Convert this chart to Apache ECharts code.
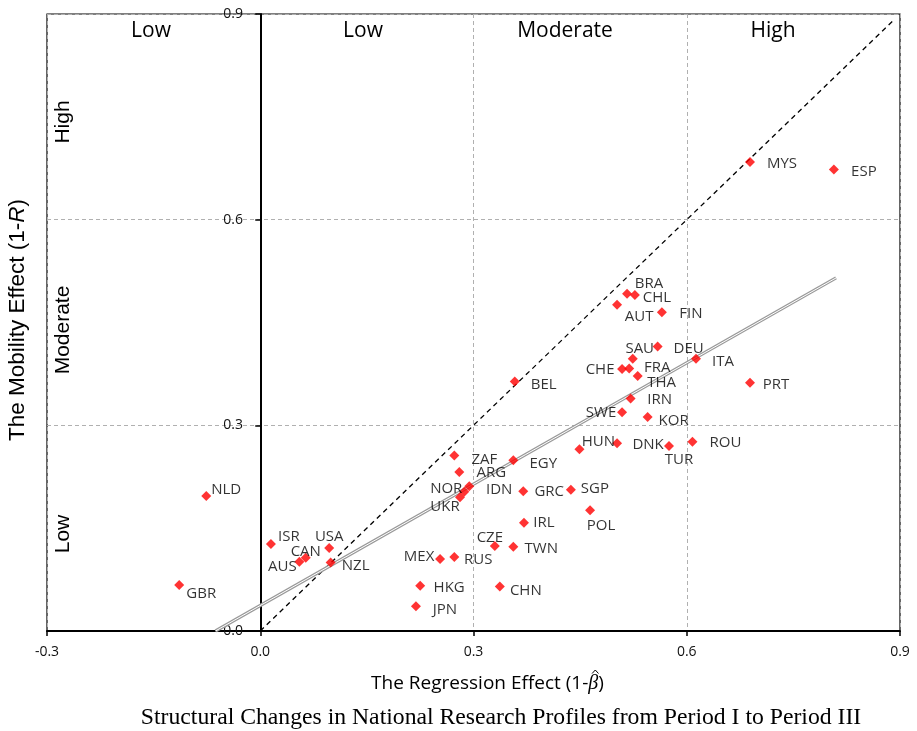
<!DOCTYPE html>
<html><head><meta charset="utf-8">
<script src="https://cdn.jsdelivr.net/npm/echarts@6/dist/echarts.min.js"></script>
<style>html,body{margin:0;padding:0;background:#fff}#c{width:917px;height:731px}</style>
</head><body><div id="c"></div>
<script>
// ---- data ----
const countries = ['MYS','ESP','BRA','CHL','AUT','FIN','DEU','SAU','ITA','CHE','FRA','THA','BEL','PRT','IRN','SWE','KOR','HUN','DNK','TUR','ROU','EGY','ZAF','ARG','IDN','NOR','UKR','GRC','SGP','POL','IRL','CZE','TWN','MEX','RUS','HKG','CHN','JPN','NLD','GBR','ISR','USA','CAN','AUS','NZL'];
const regressionEffect = [0.689,0.807,0.516,0.527,0.502,0.565,0.559,0.524,0.613,0.509,0.519,0.531,0.358,0.689,0.521,0.509,0.545,0.449,0.502,0.575,0.608,0.356,0.273,0.280,0.294,0.287,0.281,0.370,0.437,0.464,0.371,0.330,0.356,0.253,0.273,0.225,0.337,0.219,-0.076,-0.114,0.015,0.097,0.064,0.055,0.099];
const mobilityEffect = [0.684,0.673,0.492,0.490,0.476,0.465,0.415,0.397,0.397,0.382,0.383,0.372,0.364,0.362,0.339,0.319,0.312,0.265,0.274,0.270,0.276,0.249,0.256,0.232,0.211,0.203,0.195,0.204,0.206,0.176,0.158,0.124,0.123,0.105,0.108,0.066,0.065,0.036,0.197,0.067,0.127,0.121,0.107,0.101,0.100];
const regLineX = [-0.063, 0.810];
const regLineY = [0.0, 0.515];
const diagX = [0, 0.89];
const diagY = [0, 0.89];
const xTicks = [-0.3, 0.0, 0.3, 0.6, 0.9];
const yTicks = [0.0, 0.3, 0.6, 0.9];
const topLevels = ['Low','Low','Moderate','High'];
const sideLevels = ['High','Moderate','Low'];
const xTitleMain = 'The Regression Effect (1-';
const xTitleSym = '\u03B2';
const yTitleMain = 'The Mobility Effect (1-';
const yTitleSym = 'R';
const caption = 'Structural Changes in National Research Profiles from Period I to Period III';

// ---- label placement (style) ----
const labelOffset = {
  MYS:[32,2], ESP:[30,2], BRA:[22,-10], CHL:[22,3], AUT:[22,12], FIN:[29,2], DEU:[31,2],
  SAU:[7,-10], ITA:[27,3], CHE:[-22,1], FRA:[28,-1], THA:[24,7], BEL:[29,3], PRT:[26,2],
  IRN:[29,1], SWE:[-21,0], KOR:[26,4], HUN:[19,-8], DNK:[31,2], TUR:[10,14], ROU:[33,1],
  EGY:[30,3], ZAF:[30,4], ARG:[32,1], IDN:[30,3], NOR:[-18,-3], UKR:[-15,9], GRC:[26,1],
  SGP:[24,-1], POL:[11,15], IRL:[20,0], CZE:[-5,-8], TWN:[28,2], MEX:[-21,-2], RUS:[24,3],
  HKG:[29,2], CHN:[26,4], JPN:[29,3], NLD:[20,-6], GBR:[22,9], ISR:[18,-7], USA:[0,-11],
  CAN:[0,-6], AUS:[-17,5], NZL:[25,3]
};

const FONT = '"Open Sans", "Noto Sans", sans-serif';
const ARIAL = '"Liberation Sans", Arial, sans-serif';
const SERIF = '"Liberation Serif", "Times New Roman", serif';
const points = countries.map((c, i) => ({
  name: c,
  value: [regressionEffect[i], mobilityEffect[i]],
  label: { offset: labelOffset[c] || [28, 0] }
}));

// measure x-title pieces to place the hat over beta
const mctx = document.createElement('canvas').getContext('2d');
mctx.font = '19px "Open Sans"';
const w1 = mctx.measureText(xTitleMain).width;
const w3 = mctx.measureText(')').width;
mctx.font = 'italic 20px "Liberation Serif"';
const wb = mctx.measureText(xTitleSym).width;
const titleCx = 488, titleCy = 684;
const x0 = titleCx - (w1 + wb + w3 + 1) / 2;
const bx = x0 + w1 + wb / 2 + 2;

const chart = echarts.init(document.getElementById('c'), null, {renderer:'canvas'});
const gridSplit = { show:true, lineStyle:{ color:'#b0b0b0', type:[4,3], width:1 } };
chart.setOption({
  animation:false,
  backgroundColor:'#fff',
  grid:{ left:47, right:17, top:14, bottom:100, show:true, borderColor:'#000', borderWidth:1.2, backgroundColor:'transparent' },
  xAxis:{
    type:'value', min:xTicks[0], max:xTicks[xTicks.length-1], interval:0.3,
    axisLine:{ onZero:false, lineStyle:{ color:'#000', width:2 } },
    axisTick:{ show:true, length:5, lineStyle:{ color:'#000', width:1.5 } },
    axisLabel:{ margin:14, color:'#111', fontFamily:FONT, fontSize:14, formatter:v=>v.toFixed(1) },
    splitLine: gridSplit
  },
  yAxis:{
    type:'value', min:yTicks[0], max:yTicks[yTicks.length-1], interval:0.3,
    axisLine:{ onZero:true, lineStyle:{ color:'#000', width:2 } },
    axisTick:{ show:true, length:5, lineStyle:{ color:'#000', width:1.5 } },
    axisLabel:{ margin:-196, color:'#111', fontFamily:FONT, fontSize:14, formatter:v=>v.toFixed(1) },
    splitLine: gridSplit
  },
  series:[
    { type:'line', data:diagX.map((x,i)=>[x,diagY[i]]), symbol:'none', silent:true,
      lineStyle:{ color:'#000', width:1.3, type:[5,4] }, z:2 },
    { type:'line', data:regLineX.map((x,i)=>[x,regLineY[i]]), symbol:'none', silent:true,
      lineStyle:{ color:'#9a9a9a', width:3.2 }, z:3 },
    { type:'line', data:regLineX.map((x,i)=>[x,regLineY[i]]), symbol:'none', silent:true,
      lineStyle:{ color:'#ffffff', width:1 }, z:4 },
    { type:'scatter', data:points, symbol:'diamond', symbolSize:10, z:5,
      itemStyle:{ color:'#ff0000' },
      label:{ show:true, position:'inside', align:'center', verticalAlign:'middle',
        formatter:p=>p.name, color:'#000', fontFamily:FONT, fontSize:15 } }
  ],
  graphic:[
    { type:'text', x:151, y:31, style:{ text:topLevels[0], fontFamily:FONT, fontSize:21, fill:'#000', align:'center', verticalAlign:'middle' } },
    { type:'text', x:363, y:31, style:{ text:topLevels[1], fontFamily:FONT, fontSize:21, fill:'#000', align:'center', verticalAlign:'middle' } },
    { type:'text', x:565, y:31, style:{ text:topLevels[2], fontFamily:FONT, fontSize:21, fill:'#000', align:'center', verticalAlign:'middle' } },
    { type:'text', x:773, y:31, style:{ text:topLevels[3], fontFamily:FONT, fontSize:21, fill:'#000', align:'center', verticalAlign:'middle' } },
    { type:'text', x:63, y:122, rotation:Math.PI/2, style:{ text:sideLevels[0], fontFamily:ARIAL, fontSize:21, fill:'#000', align:'center', verticalAlign:'middle' } },
    { type:'text', x:63, y:330, rotation:Math.PI/2, style:{ text:sideLevels[1], fontFamily:ARIAL, fontSize:21, fill:'#000', align:'center', verticalAlign:'middle' } },
    { type:'text', x:63, y:534, rotation:Math.PI/2, style:{ text:sideLevels[2], fontFamily:ARIAL, fontSize:21, fill:'#000', align:'center', verticalAlign:'middle' } },
    { type:'text', x:18, y:320, rotation:Math.PI/2, style:{
        text:'{a|' + yTitleMain + '}{b|' + yTitleSym + '}{a|)}', align:'center', verticalAlign:'middle',
        rich:{ a:{ fontFamily:ARIAL, fontSize:22.5, color:'#000' }, b:{ fontFamily:ARIAL, fontSize:22.5, fontStyle:'italic', color:'#000' } } } },
    { type:'text', x:x0, y:titleCy, style:{
        text:'{a|' + xTitleMain + '}{b|' + xTitleSym + '}{a|)}', align:'left', verticalAlign:'middle',
        rich:{ a:{ fontFamily:FONT, fontSize:19, color:'#000' }, b:{ fontFamily:SERIF, fontSize:20, fontStyle:'italic', color:'#000' } } } },
    { type:'polyline', shape:{ points:[[bx-3.2,673.5],[bx,670],[bx+3.2,673.5]] }, style:{ stroke:'#000', lineWidth:1, fill:null } },
    { type:'text', x:501, y:718, style:{ text:caption,
        fontFamily:SERIF, fontSize:23.7, fill:'#000', align:'center', verticalAlign:'middle' } }
  ]
});
</script></body></html>
